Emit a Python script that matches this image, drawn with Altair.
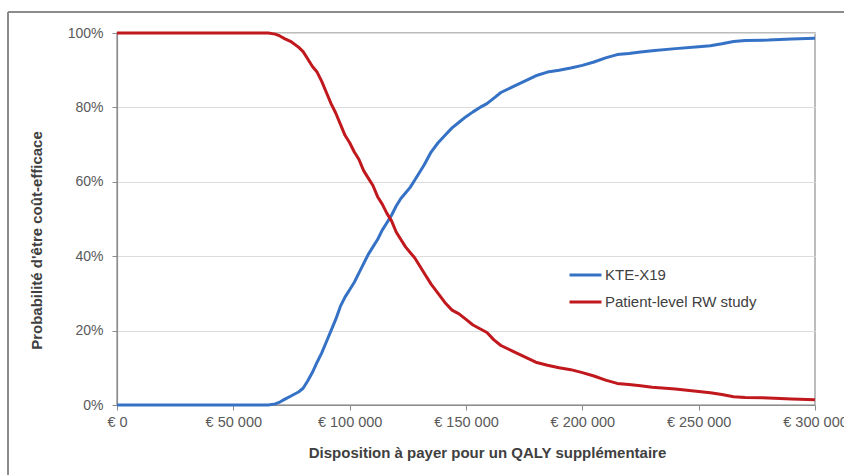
import altair as alt
import pandas as pd

# Willingness to pay (EUR per QALY)
wtp = [0, 10000, 20000, 30000, 40000, 50000, 60000, 65000, 68000, 70000, 72000, 75000,
       78000, 80000, 82000, 84000, 86000, 88000, 90000, 92000, 94000, 96000, 98000,
       100000, 102000, 104000, 106000, 108000, 110000, 112000, 114000, 116000, 118000,
       120000, 122000, 124000, 126000, 128000, 130000, 132000, 135000, 138000, 141000,
       144000, 147000, 150000, 153000, 156000, 159000, 162000, 165000, 170000, 175000,
       180000, 185000, 190000, 195000, 200000, 205000, 210000, 215000, 220000, 225000,
       230000, 240000, 250000, 255000, 260000, 265000, 270000, 280000, 290000, 300000]

kte_x19 = [0, 0, 0, 0, 0, 0, 0, 0, 0.3, 0.8, 1.5, 2.5,
           3.5, 4.5, 6.5, 8.8, 11.5, 14, 17, 20, 23, 26.5, 29,
           31, 33, 35.5, 38, 40.5, 42.5, 44.5, 47, 49, 51,
           53.5, 55.5, 57, 58.5, 60.5, 62.5, 64.5, 68, 70.5, 72.5,
           74.5, 76, 77.5, 78.8, 80, 81, 82.5, 84, 85.5, 87,
           88.5, 89.5, 90, 90.6, 91.3, 92.2, 93.3, 94.2, 94.5, 94.9,
           95.2, 95.8, 96.3, 96.6, 97.1, 97.7, 98, 98.1, 98.4, 98.6]

rw_study = [100, 100, 100, 100, 100, 100, 100, 100, 99.7, 99.2, 98.5, 97.6,
            96.2, 95, 93, 91, 89.5, 87, 84, 81, 78.5, 75.5, 72.5,
            70.5, 68, 66, 63, 61, 59, 56, 54, 51.5, 49.5,
            46.5, 44.5, 42.5, 41, 39.5, 37.5, 35.5, 32.5, 30, 27.5,
            25.5, 24.5, 23, 21.5, 20.5, 19.5, 17.5, 16, 14.5, 13,
            11.5, 10.7, 10, 9.5, 8.7, 7.8, 6.7, 5.8, 5.5, 5.2,
            4.8, 4.3, 3.6, 3.3, 2.8, 2.2, 2.0, 1.9, 1.6, 1.4]

series_names = ["KTE-X19", "Patient-level RW study"]
series_colors = ["#3572c6", "#c0181c"]

x_tick_values = [0, 50000, 100000, 150000, 200000, 250000, 300000]
x_tick_labels = ["€ 0", "€ 50 000", "€ 100 000", "€ 150 000", "€ 200 000", "€ 250 000", "€ 300 000"]
y_tick_values = [0, 0.2, 0.4, 0.6, 0.8, 1.0]

rows = []
for name, vals in zip(series_names, [kte_x19, rw_study]):
    for w, v in zip(wtp, vals):
        rows.append({"wtp": w, "prob": v / 100.0, "serie": name})
df = pd.DataFrame(rows)

label_expr = ""
for v, l in zip(x_tick_values, x_tick_labels):
    label_expr += f"datum.value == {v} ? '{l}' : "
label_expr += "''"

FONT = "Liberation Sans, Arial, sans-serif"

W, H = 698, 372

lines = alt.Chart(df).mark_line(strokeWidth=3, strokeJoin="round").encode(
    x=alt.X("wtp:Q",
            scale=alt.Scale(domain=[0, 300000], nice=False, zero=True),
            axis=alt.Axis(values=x_tick_values, labelExpr=label_expr,
                          title="Disposition à payer pour un QALY supplémentaire",
                          grid=False, tickSize=5, labelPadding=5,
                          titleX=370, titleY=47, titleBaseline="middle",
                          labelFontSize=14.5, titleFontSize=15,
                          labelFlush=False, labelOverlap=False)),
    y=alt.Y("prob:Q",
            scale=alt.Scale(domain=[0, 1], nice=False),
            axis=alt.Axis(values=y_tick_values, format=".0%",
                          title="Probabilité  d'être coût-efficace",
                          grid=True, tickSize=5, labelPadding=9,
                          titleX=-81, titleY=207, titleAngle=-90,
                          titleBaseline="middle", titleAlign="center",
                          labelFontSize=14, titleFontSize=15)),
    color=alt.Color("serie:N",
                    scale=alt.Scale(domain=series_names, range=series_colors),
                    legend=alt.Legend(title=None, orient="none",
                                      legendX=451, legendY=234,
                                      symbolType="stroke", symbolStrokeWidth=3,
                                      symbolSize=1024, clipHeight=16,
                                      labelFontSize=15,
                                      labelColor="#404040", labelFont=FONT,
                                      rowPadding=11, labelOffset=2)),
    order=alt.Order("wtp:Q"),
)

frame_left = alt.Chart(df).mark_rule(color="#8c8c8c", strokeWidth=1.2).encode(
    x=alt.value(-109), y=alt.value(-21), y2=alt.value(H + 70))
frame_top = alt.Chart(df).mark_rule(color="#8c8c8c", strokeWidth=1.2).encode(
    x=alt.value(-109), x2=alt.value(W + 29), y=alt.value(-21))

chart = alt.layer(frame_left, frame_top, lines).properties(
    width=W, height=H,
    autosize=alt.AutoSizeParams(type="none"),
    padding={"left": 117, "top": 33, "right": 29, "bottom": 70},
    background="white",
).configure_view(
    stroke="#a6a6a6", strokeWidth=1.5
).configure_axis(
    labelFont=FONT, titleFont=FONT, labelColor="#595959", titleColor="#404040",
    titleFontWeight="bold", domainColor="#8c8c8c", tickColor="#8c8c8c",
    gridColor="#dcdcdc", domainWidth=1.2,
)

chart.save("out.html", embed_options={"renderer": "svg", "actions": False})
